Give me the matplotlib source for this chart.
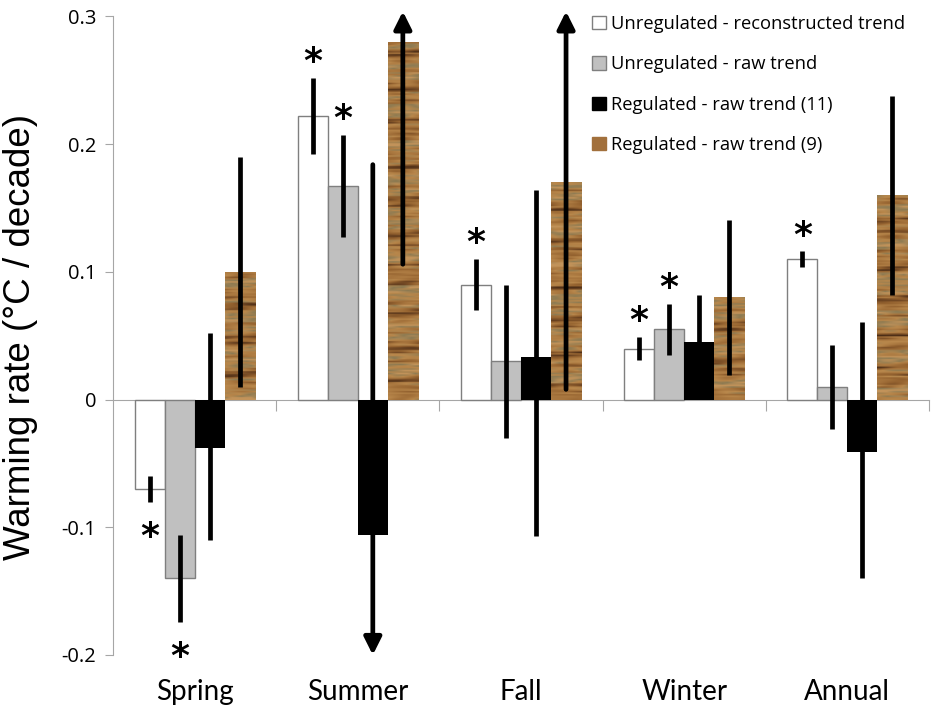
import numpy as np
import matplotlib
matplotlib.use("Agg")
import matplotlib.pyplot as plt
from matplotlib.patches import Patch
from matplotlib.colors import LinearSegmentedColormap
from matplotlib.transforms import blended_transform_factory

# ---------------- data ----------------
categories = ["Spring", "Summer", "Fall", "Winter", "Annual"]
series_names = ["Unregulated - reconstructed trend",
                "Unregulated - raw trend",
                "Regulated - raw trend (11)",
                "Regulated - raw trend (9)"]

unreg_recon = [-0.070, 0.222, 0.090, 0.040, 0.110]
unreg_recon_err = [0.010, 0.030, 0.020, 0.009, 0.006]
unreg_recon_sig = [True, True, True, True, True]

unreg_raw = [-0.140, 0.167, 0.030, 0.055, 0.010]
unreg_raw_err = [0.034, 0.040, 0.060, 0.020, 0.033]
unreg_raw_sig = [True, True, False, True, False]

reg11 = [-0.038, -0.106, 0.033, 0.045, -0.041]
reg11_err_low = [0.072, 0.290, 0.140, 0.037, 0.099]
reg11_err_high = [0.090, 0.290, 0.131, 0.037, 0.102]
reg11_sig = [False] * 5

reg9 = [0.100, 0.280, 0.170, 0.080, 0.160]
reg9_err = [0.090, 0.174, 0.162, 0.061, 0.078]
reg9_sig = [False] * 5

yticks = [-0.2, -0.1, 0.0, 0.1, 0.2, 0.3]
ytick_labels = ["-0.2", "-0.1", "0", "0.1", "0.2", "0.3"]
ylabel = "Warming rate (°C / decade)"

# ---------------- figure ----------------
W, H = 933, 713
fig = plt.figure(figsize=(W / 100, H / 100), dpi=100)
ax = fig.add_axes([113 / W, 1 - 655 / H, (929 - 113) / W, (655 - 16.5) / H])
YMIN, YMAX = -0.2, 0.3

grey_line = "#a6a6a6"
wood_base = "#a2703c"
wood_cmap = LinearSegmentedColormap.from_list(
    "wood", ["#4a2c16", "#6e4522", "#94622f", "#a9773f", "#b9884c", "#8c7a52", "#c2935a"])


def wood_texture(nrows, phase, ncols=24):
    yy = np.arange(nrows)[:, None].astype(float)
    xx = np.linspace(0, 1, ncols)[None, :]
    freqs = [0.041, 0.093, 0.157, 0.233, 0.311, 0.467, 0.619]
    amps = [0.20, 0.16, 0.13, 0.11, 0.09, 0.07, 0.05]
    s = np.full((nrows, ncols), 0.58)
    for k, (f, a) in enumerate(zip(freqs, amps)):
        s = s + a * np.sin(2 * np.pi * f * yy + phase * (k + 1.7) + 0.6 * np.sin(3.1 * xx + k))
    s = np.clip(s, 0, 1)
    return wood_cmap(s)


x = np.arange(len(categories))
w = 0.184
offsets = [-1.5 * w, -0.5 * w, 0.5 * w, 1.5 * w]

series = [
    (unreg_recon, unreg_recon_err, unreg_recon_err, unreg_recon_sig, dict(facecolor="white", edgecolor="#7f7f7f", linewidth=1.0)),
    (unreg_raw, unreg_raw_err, unreg_raw_err, unreg_raw_sig, dict(facecolor="#c0c0c0", edgecolor="#7f7f7f", linewidth=1.0)),
    (reg11, reg11_err_low, reg11_err_high, reg11_sig, dict(facecolor="black", edgecolor="black", linewidth=0)),
    (reg9, reg9_err, reg9_err, reg9_sig, dict(facecolor=wood_base, edgecolor="none", linewidth=0)),
]

err_lw = 3.4
for si, (vals, elo, ehi, sig, style) in enumerate(series):
    xs = x + offsets[si]
    bars = ax.bar(xs, vals, width=w, zorder=2, **style)
    if si == 3:
        for bi, b in enumerate(bars):
            x0, y0 = b.get_x(), b.get_y()
            bw, bh = b.get_width(), b.get_height()
            nrows = max(int(abs(bh) * 1274 / 1.5), 8)
            ax.imshow(wood_texture(nrows, 0.9 * bi + 0.3), extent=[x0, x0 + bw, y0, y0 + bh],
                      aspect="auto", origin="lower", zorder=2.1, interpolation="bilinear")
    for xi, v, lo_e, hi_e, s in zip(xs, vals, elo, ehi, sig):
        lo, hi = v - lo_e, v + hi_e
        if hi > YMAX:
            ax.annotate("", xy=(xi, YMAX + 0.004), xytext=(xi, lo),
                        arrowprops=dict(arrowstyle="-|>", lw=err_lw, color="black",
                                        mutation_scale=26, shrinkA=0, shrinkB=0),
                        annotation_clip=False, zorder=4)
        elif lo < YMIN:
            ax.annotate("", xy=(xi, YMIN), xytext=(xi, hi),
                        arrowprops=dict(arrowstyle="-|>", lw=err_lw, color="black",
                                        mutation_scale=26, shrinkA=0, shrinkB=0),
                        annotation_clip=False, zorder=4)
        else:
            ax.vlines(xi, lo, hi, color="black", lw=err_lw, zorder=4, capstyle="butt")
        if s:
            if v >= 0:
                ypos = hi + 0.020
            else:
                ypos = lo - 0.020
            ax.annotate("*", xy=(xi, ypos), xytext=(0, -7), textcoords="offset points",
                        ha="center", va="center", fontsize=26, fontweight="bold",
                        family="DejaVu Sans", zorder=5)

# ---------------- axes styling ----------------
ax.set_xlim(-0.5, 4.5)
ax.set_ylim(YMIN, YMAX)
for sp in ["top", "right"]:
    ax.spines[sp].set_visible(False)
ax.spines["left"].set_color(grey_line)
ax.spines["bottom"].set_color(grey_line)
ax.spines["bottom"].set_position(("data", 0))
ax.spines["bottom"].set_zorder(1)

ax.set_xticks([0.5, 1.5, 2.5, 3.5, 4.5])
ax.set_xticklabels([])
ax.tick_params(axis="x", length=8, color=grey_line, direction="out")
ax.set_yticks(yticks)
ax.set_yticklabels(ytick_labels, fontsize=14.5, family="Open Sans")
ax.tick_params(axis="y", length=6, color=grey_line, direction="out", pad=6)

trans = blended_transform_factory(ax.transData, ax.transAxes)
for xi, c in zip(x, categories):
    ax.text(xi, -0.058, c, transform=trans, ha="center", va="center",
            fontsize=20, family="Lato")

fig.text(21 / W, 1 - 337 / H, ylabel, rotation=90, ha="center", va="center",
         fontsize=26.5, family="Liberation Sans")

handles = [Patch(facecolor="white", edgecolor="#7f7f7f", linewidth=1.0),
           Patch(facecolor="#c0c0c0", edgecolor="#7f7f7f", linewidth=1.0),
           Patch(facecolor="black", edgecolor="black"),
           Patch(facecolor=wood_base, edgecolor=wood_base)]
leg = fig.legend(handles, series_names, loc="upper left",
                 bbox_to_anchor=(592 / W, 1 - 15 / H), frameon=False,
                 prop=dict(family="Open Sans", size=13.2), handlelength=0.75, handleheight=0.75,
                 handletextpad=0.3, labelspacing=1.22, borderpad=0, borderaxespad=0)

fig.savefig("out.png", dpi=100, facecolor="white")
